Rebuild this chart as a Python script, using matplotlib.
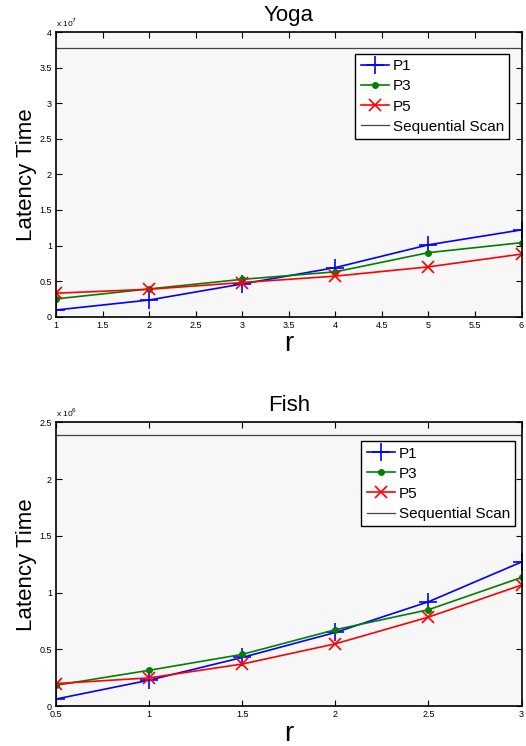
import matplotlib
matplotlib.use('Agg')
import matplotlib.pyplot as plt
from matplotlib.ticker import FuncFormatter

plt.rcParams['font.family'] = ['Liberation Sans', 'DejaVu Sans']

# Yoga
yoga_r = [1, 2, 3, 4, 5, 6]
yoga_p1 = [0.094e7, 0.234e7, 0.46e7, 0.69e7, 1.01e7, 1.22e7]
yoga_p3 = [0.25e7, 0.39e7, 0.525e7, 0.63e7, 0.90e7, 1.04e7]
yoga_p5 = [0.33e7, 0.385e7, 0.48e7, 0.57e7, 0.70e7, 0.88e7]
yoga_seq = 3.77e7

# Fish
fish_r = [0.5, 1.0, 1.5, 2.0, 2.5, 3.0]
fish_p1 = [0.064e6, 0.23e6, 0.43e6, 0.65e6, 0.92e6, 1.27e6]
fish_p3 = [0.185e6, 0.317e6, 0.457e6, 0.674e6, 0.85e6, 1.134e6]
fish_p5 = [0.20e6, 0.25e6, 0.372e6, 0.55e6, 0.785e6, 1.067e6]
fish_seq = 2.39e6

fig = plt.figure(figsize=(5.26, 7.46), dpi=100)


def draw(rect, title, r, p1, p3, p5, seq, exp, ymax, xticks, yticks, anchor):
    ax = fig.add_axes(rect)
    ax.set_facecolor('#f7f7f7')
    ax.plot(r, p1, color='blue', marker='+', markersize=13, markeredgewidth=1.2,
            linewidth=1.2, label='P1')
    ax.plot(r, p3, color='green', marker='.', markersize=8,
            linewidth=1.2, label='P3')
    ax.plot(r, p5, color='red', marker='x', markersize=9, markeredgewidth=1.2,
            linewidth=1.2, label='P5')
    ax.axhline(seq, color='#444444', linewidth=0.9, label='Sequential Scan')
    ax.set_xlim(r[0], r[-1])
    ax.set_ylim(0, ymax)
    ax.set_xticks(xticks)
    ax.set_yticks(yticks)
    ax.xaxis.set_major_formatter(FuncFormatter(lambda v, p: '%g' % v))
    ax.yaxis.set_major_formatter(FuncFormatter(lambda v, p: '%g' % (v / 10 ** exp)))
    ax.tick_params(direction='in', top=True, right=True, labelsize=6.5,
                   length=4, width=0.8, pad=3)
    for s in ax.spines.values():
        s.set_linewidth(1.2)
    ax.text(0.0, 1.012, 'x 10$^{%d}$' % exp, transform=ax.transAxes,
            fontsize=6, ha='left', va='bottom')
    ax.set_title(title, fontsize=16, pad=8)
    ax.set_xlabel('r', fontsize=20, labelpad=1)
    ax.set_ylabel('Latency Time', fontsize=16, labelpad=1.5)
    leg = ax.legend(loc='upper right', bbox_to_anchor=anchor, fontsize=11,
                    fancybox=False, framealpha=1, edgecolor='black',
                    handlelength=1.85, handletextpad=0.25, borderpad=0.35,
                    labelspacing=0.4, borderaxespad=0)
    leg.get_frame().set_linewidth(1.0)
    return ax


draw([0.1065, 0.5755, 0.885, 0.3815], 'Yoga', yoga_r, yoga_p1, yoga_p3, yoga_p5,
     yoga_seq, 7, 4e7, [1, 1.5, 2, 2.5, 3, 3.5, 4, 4.5, 5, 5.5, 6],
     [0, 0.5e7, 1e7, 1.5e7, 2e7, 2.5e7, 3e7, 3.5e7, 4e7], (0.974, 0.923))
draw([0.1065, 0.0532, 0.885, 0.3808], 'Fish', fish_r, fish_p1, fish_p3, fish_p5,
     fish_seq, 6, 2.5e6, [0.5, 1, 1.5, 2, 2.5, 3],
     [0, 0.5e6, 1e6, 1.5e6, 2e6, 2.5e6], (0.987, 0.933))

plt.savefig('out.png', dpi=100)
